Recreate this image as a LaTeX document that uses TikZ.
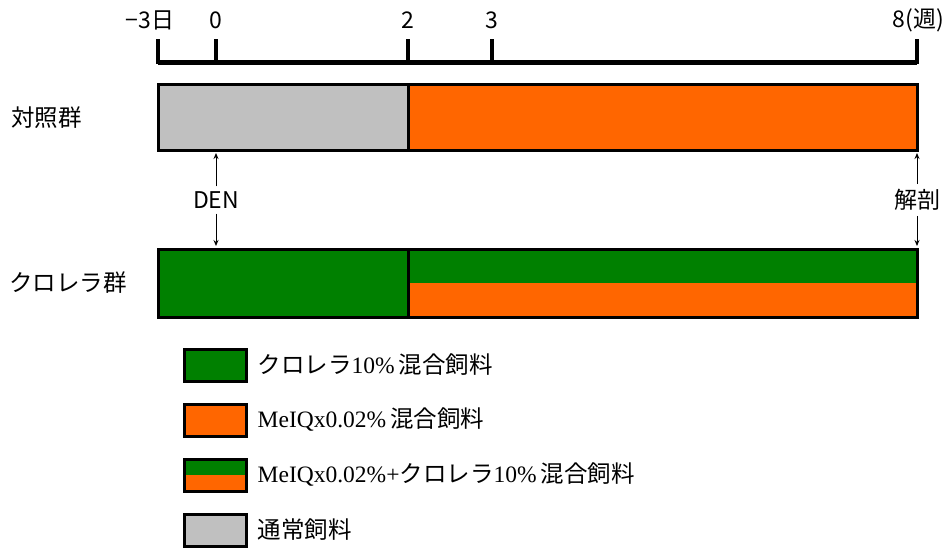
\documentclass[tikz,border=0pt]{standalone}
\usepackage{fontspec}
\setmainfont{Liberation Serif}
\newfontfamily\jp{Noto Sans CJK JP}
\usetikzlibrary{positioning,arrows.meta}
\definecolor{ctrlgray}{HTML}{C0C0C0}
\definecolor{meorange}{HTML}{FF6600}
\definecolor{chlgreen}{HTML}{008000}
\begin{document}
\begin{tikzpicture}[x=1pt,y=-1pt,
  bar/.style = {rectangle,draw=black,line width=3pt,inner sep=0pt,outer sep=0pt,anchor=north west},
  key/.style = {rectangle,draw=black,line width=3pt,inner sep=0pt,minimum width=62,minimum height=32},
  halves/.style = {fill=meorange,path picture={\fill[chlgreen] (path picture bounding box.north west) rectangle (path picture bounding box.east);}},
  ticklabel/.style = {font=\jp\fontsize{23}{26}\selectfont,inner sep=0pt},
  grouplabel/.style = {font=\jp\fontsize{23.5}{27}\selectfont,inner sep=0pt,anchor=west},
  keytext/.style = {font=\fontsize{23.5}{27}\selectfont,inner sep=0pt,right=10pt of #1},
  eventarrow/.style = {-{Stealth[length=6pt,width=5pt]},line width=1pt,shorten >=3pt,shorten <=5pt}]
\useasboundingbox (0,0) rectangle (947,550);
% time axis
\draw[line width=5pt] (158,62) -- (917,62);
\foreach \x in {158,216,408,492,917}
    \draw[line width=4.5pt] (\x,39) -- (\x,64);
\node[ticklabel] (tminus) at (150,20) {−3日};
\foreach \t/\x in {0/216, 2/408, 3/492}
    \node[ticklabel] (t\t) at (\x,20) {\t};
\node[ticklabel,anchor=east] (tend) at (944,20) {8(週)};
% groups
\node[bar,fill=ctrlgray,minimum width=250,minimum height=66] (ctrlA) at (158,84) {};
\node[bar,fill=meorange,minimum width=509,minimum height=66] (ctrlB) at (408,84) {};
\node[bar,fill=chlgreen,minimum width=250,minimum height=68] (chlA) at (158,249) {};
\node[bar,halves,minimum width=509,minimum height=68] (chlB) at (408,249) {};
\node[grouplabel] (ctrllabel) at (11,118) {対照群};
\node[grouplabel] (chllabel) at (9,283) {クロレラ群};
% DEN and autopsy
\node[ticklabel] (den) at (216,200) {DEN};
\node[ticklabel] (autopsy) at (917,200) {解剖};
\draw[eventarrow] (den.north) -- (den.north |- ctrlA.south);
\draw[eventarrow] (den.south) -- (den.south |- chlA.north);
\draw[eventarrow] (autopsy.north) -- (autopsy.north |- ctrlB.south);
\draw[eventarrow] (autopsy.south) -- (autopsy.south |- chlB.north);
% legend
\node[key,fill=chlgreen] (keyA) at (215,365) {};
\node[key,fill=meorange] (keyB) at (215,420) {};
\node[key,halves] (keyC) at (215,475) {};
\node[key,fill=ctrlgray] (keyD) at (215,530) {};
\node[keytext=keyA] (textA) {{\jp クロレラ}10\%\,{\jp 混合飼料}};
\node[keytext=keyB] (textB) {MeIQx0.02\%\,{\jp 混合飼料}};
\node[keytext=keyC] (textC) {MeIQx0.02\%+{\jp クロレラ}10\%\,{\jp 混合飼料}};
\node[keytext=keyD] (textD) {{\jp 通常飼料}};
\end{tikzpicture}
\end{document}
